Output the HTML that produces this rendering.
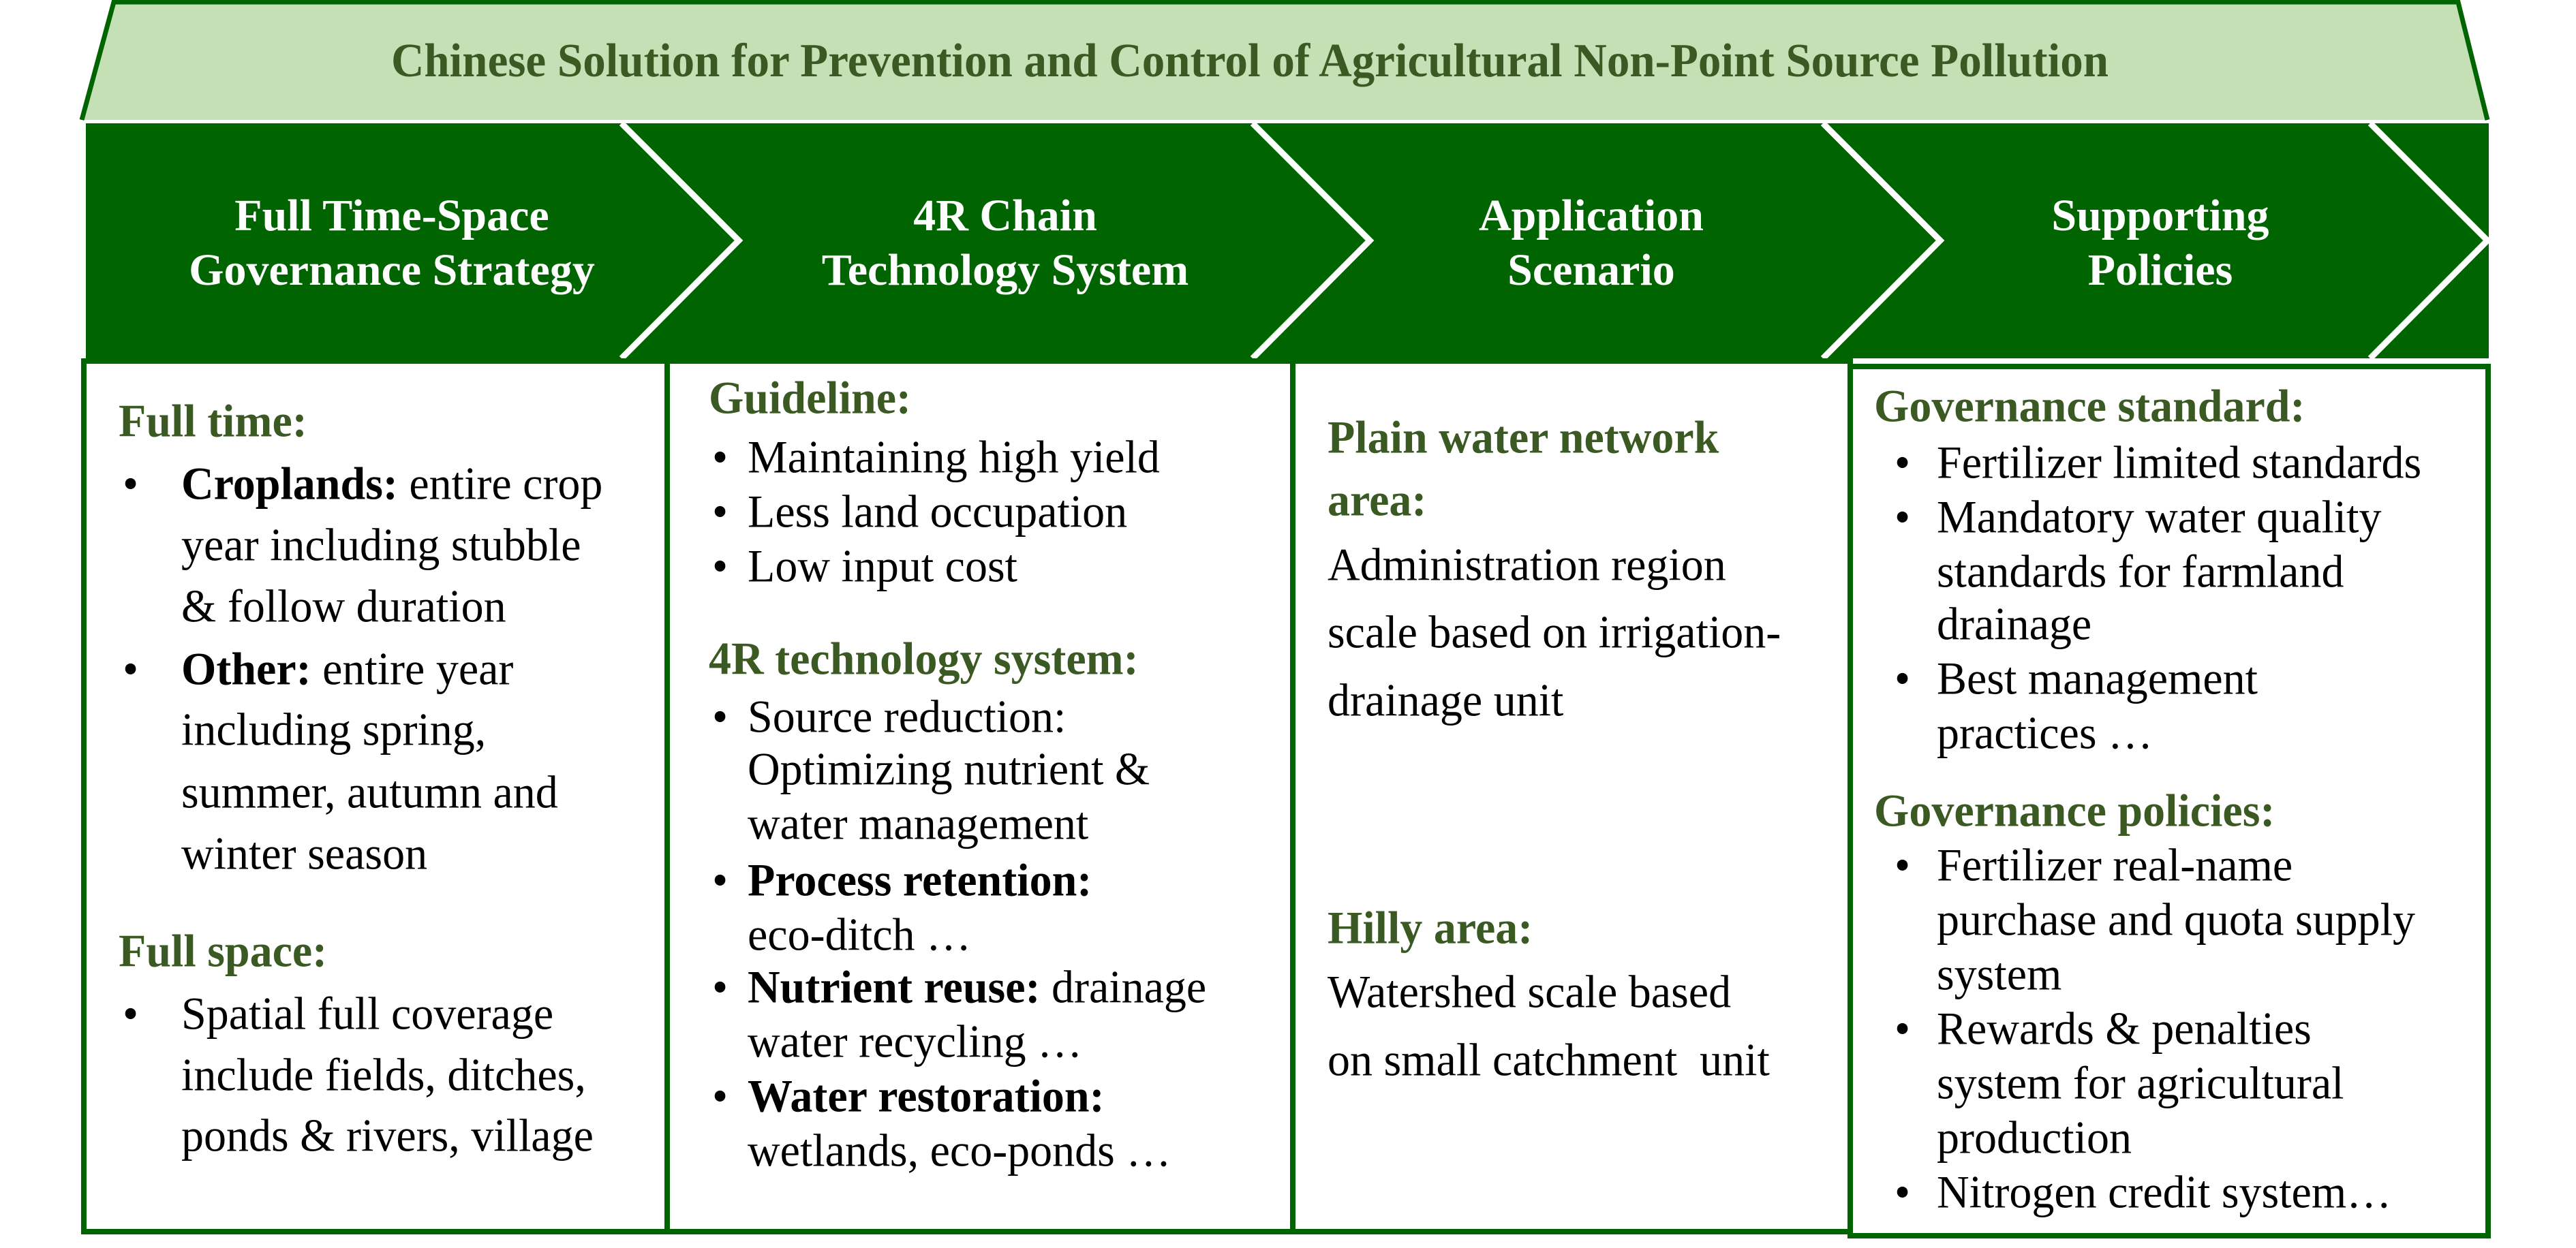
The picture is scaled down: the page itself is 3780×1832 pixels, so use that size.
<!DOCTYPE html>
<html><head><meta charset="utf-8"><style>
html,body{margin:0;padding:0;background:#fff}
#c{position:relative;width:3780px;height:1832px;overflow:hidden;font-family:"Liberation Serif",serif}
.l{position:absolute;height:80px;line-height:80px;font-size:66px;white-space:nowrap;color:#000;transform:scaleY(1.02);transform-origin:50% 50%;margin-top:-6px}
.g{color:#3b5a23;font-weight:bold}
.h{position:absolute;color:#fff;font-weight:bold;font-size:66px;line-height:80px;height:80px;text-align:center;width:900px;white-space:nowrap}
b{font-weight:bold}
</style></head><body><div id="c">
<svg width="3780" height="1832" style="position:absolute;left:0;top:0">
<polygon points="167,3 3607,3 3650,176 120,176" fill="#c5e0b4"/>
<polyline points="120,176 167,3 3607,3 3650,176" fill="none" stroke="#006400" stroke-width="7"/>
<rect x="126" y="181" width="3526" height="345" fill="#006400"/>
<g stroke="#fff" stroke-width="9" fill="none">
<polyline points="912,181 1084,353 912,526"/>
<polyline points="1838,181 2010,353 1838,526"/>
<polyline points="2675,181 2847,353 2675,526"/>
<polyline points="3478,181 3650,353 3478,526"/>
</g>
<text x="1834" y="112" font-family="Liberation Serif" font-weight="bold" font-size="70" fill="#3b5a23" text-anchor="middle" textLength="2520" lengthAdjust="spacingAndGlyphs">Chinese Solution for Prevention and Control of Agricultural Non-Point Source Pollution</text>
<g fill="none" stroke="#006400" stroke-width="8">
<rect x="123" y="530" width="856" height="1278"/>
<rect x="979" y="530" width="918" height="1278"/>
<rect x="1897" y="530" width="818" height="1278"/>
<rect x="2715" y="538" width="936" height="1276"/>
</g>
</svg>
<div class="h" style="left:125px;top:277px">Full Time-Space</div>
<div class="h" style="left:125px;top:357px">Governance Strategy</div>
<div class="h" style="left:1025px;top:277px">4R Chain</div>
<div class="h" style="left:1025px;top:357px">Technology System</div>
<div class="h" style="left:1885px;top:277px">Application</div>
<div class="h" style="left:1885px;top:357px">Scenario</div>
<div class="h" style="left:2720px;top:277px">Supporting</div>
<div class="h" style="left:2720px;top:357px">Policies</div>

<div class="l g" style="left:174px;top:585px">Full time:</div>
<div class="l" style="left:180px;top:677px">•</div><div class="l" style="left:266px;top:677px"><b>Croplands:</b> entire crop</div>
<div class="l" style="left:266px;top:767px">year including stubble</div>
<div class="l" style="left:266px;top:857px">&amp; follow duration</div>
<div class="l" style="left:180px;top:949px">•</div><div class="l" style="left:266px;top:949px"><b>Other:</b> entire year</div>
<div class="l" style="left:266px;top:1038px">including spring,</div>
<div class="l" style="left:266px;top:1130px">summer, autumn and</div>
<div class="l" style="left:266px;top:1220px">winter season</div>
<div class="l g" style="left:174px;top:1363px">Full space:</div>
<div class="l" style="left:180px;top:1455px">•</div><div class="l" style="left:266px;top:1455px">Spatial full coverage</div>
<div class="l" style="left:266px;top:1545px">include fields, ditches,</div>
<div class="l" style="left:266px;top:1634px">ponds &amp; rivers, village</div>

<div class="l g" style="left:1040px;top:551px">Guideline:</div>
<div class="l" style="left:1045px;top:638px">•</div><div class="l" style="left:1097px;top:638px">Maintaining high yield</div>
<div class="l" style="left:1045px;top:718px">•</div><div class="l" style="left:1097px;top:718px">Less land occupation</div>
<div class="l" style="left:1045px;top:798px">•</div><div class="l" style="left:1097px;top:798px">Low input cost</div>
<div class="l g" style="left:1040px;top:934px">4R technology system:</div>
<div class="l" style="left:1045px;top:1019px">•</div><div class="l" style="left:1097px;top:1019px">Source reduction:</div>
<div class="l" style="left:1097px;top:1096px">Optimizing nutrient &amp;</div>
<div class="l" style="left:1097px;top:1176px">water management</div>
<div class="l" style="left:1045px;top:1259px">•</div><div class="l" style="left:1097px;top:1259px"><b>Process retention:</b></div>
<div class="l" style="left:1097px;top:1339px">eco-ditch …</div>
<div class="l" style="left:1045px;top:1416px">•</div><div class="l" style="left:1097px;top:1416px"><b>Nutrient reuse:</b> drainage</div>
<div class="l" style="left:1097px;top:1496px">water recycling …</div>
<div class="l" style="left:1045px;top:1576px">•</div><div class="l" style="left:1097px;top:1576px"><b>Water restoration:</b></div>
<div class="l" style="left:1097px;top:1656px">wetlands, eco-ponds …</div>

<div class="l g" style="left:1948px;top:609px">Plain water network</div>
<div class="l g" style="left:1948px;top:701px">area:</div>
<div class="l" style="left:1948px;top:796px">Administration region</div>
<div class="l" style="left:1948px;top:895px">scale based on irrigation-</div>
<div class="l" style="left:1948px;top:995px">drainage unit</div>
<div class="l g" style="left:1948px;top:1329px">Hilly area:</div>
<div class="l" style="left:1948px;top:1423px">Watershed scale based</div>
<div class="l" style="left:1948px;top:1523px">on small catchment&nbsp; unit</div>

<div class="l g" style="left:2750px;top:563px">Governance standard:</div>
<div class="l" style="left:2780px;top:646px">•</div><div class="l" style="left:2842px;top:646px">Fertilizer limited standards</div>
<div class="l" style="left:2780px;top:726px">•</div><div class="l" style="left:2842px;top:726px">Mandatory water quality</div>
<div class="l" style="left:2842px;top:806px">standards for farmland</div>
<div class="l" style="left:2842px;top:883px">drainage</div>
<div class="l" style="left:2780px;top:963px">•</div><div class="l" style="left:2842px;top:963px">Best management</div>
<div class="l" style="left:2842px;top:1043px">practices …</div>
<div class="l g" style="left:2750px;top:1157px">Governance policies:</div>
<div class="l" style="left:2780px;top:1237px">•</div><div class="l" style="left:2842px;top:1237px">Fertilizer real-name</div>
<div class="l" style="left:2842px;top:1317px">purchase and quota supply</div>
<div class="l" style="left:2842px;top:1397px">system</div>
<div class="l" style="left:2780px;top:1477px">•</div><div class="l" style="left:2842px;top:1477px">Rewards &amp; penalties</div>
<div class="l" style="left:2842px;top:1557px">system for agricultural</div>
<div class="l" style="left:2842px;top:1637px">production</div>
<div class="l" style="left:2780px;top:1717px">•</div><div class="l" style="left:2842px;top:1717px">Nitrogen credit system…</div>
</div></body></html>
